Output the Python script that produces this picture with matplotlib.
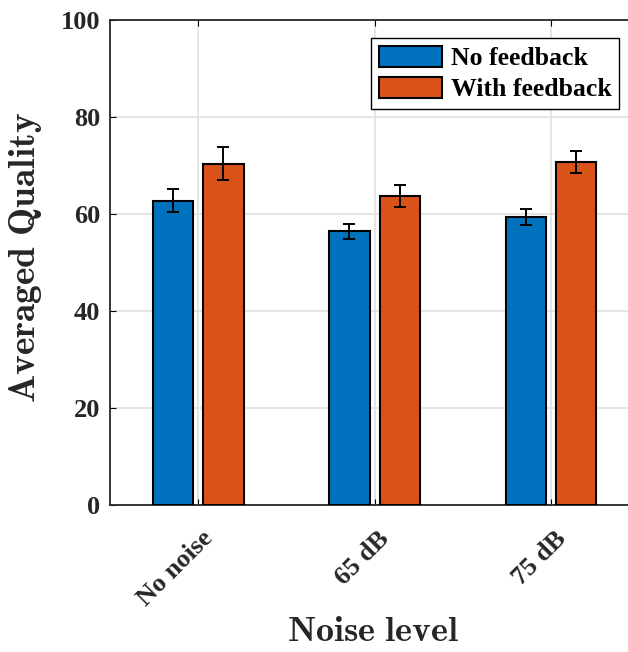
import matplotlib
matplotlib.use('Agg')
import matplotlib.pyplot as plt
from matplotlib.transforms import ScaledTranslation
import numpy as np

# Data
groups = ['No noise', '65 dB', '75 dB']
series = ['No feedback', 'With feedback']
no_fb = [62.7, 56.4, 59.3]
no_fb_err = [2.35, 1.55, 1.65]
with_fb = [70.4, 63.7, 70.7]
with_fb_err = [3.5, 2.3, 2.35]
yticks = [0, 20, 40, 60, 80, 100]

colors = ['#0072BD', '#D95319']

plt.rcParams['font.family'] = ['Liberation Serif', 'DejaVu Serif']
plt.rcParams['font.weight'] = 'bold'
plt.rcParams['mathtext.fontset'] = 'cm'

fig = plt.figure(figsize=(6.28, 6.52), dpi=100)
ax = fig.add_axes([0.1752, 0.2255, 0.843, 0.7439])

x = np.arange(1, len(groups) + 1)
w = 0.227
off = 0.143
ax.bar(x - off, no_fb, w, color=colors[0], edgecolor='black', linewidth=1.5,
       label=series[0], zorder=3)
ax.bar(x + off, with_fb, w, color=colors[1], edgecolor='black', linewidth=1.5,
       label=series[1], zorder=3)
ax.errorbar(x - off, no_fb, yerr=no_fb_err, fmt='none', ecolor='black',
            elinewidth=1.4, capsize=4.5, capthick=1.4, zorder=4)
ax.errorbar(x + off, with_fb, yerr=with_fb_err, fmt='none', ecolor='black',
            elinewidth=1.4, capsize=4.5, capthick=1.4, zorder=4)

ax.set_xlim(0.5, 3.5)
ax.set_ylim(0, 100)
ax.set_yticks(yticks)
ax.set_xticks(x)
ax.set_xticklabels(groups, rotation=45, ha='right', va='center',
                   rotation_mode='anchor')
ax.tick_params(axis='both', direction='in', length=4, width=0.8,
               labelsize=19, top=True, right=True)
ax.tick_params(axis='y', pad=7)
ax.tick_params(axis='x', pad=0)
# MATLAB places the rotated labels a bit lower and to the right of the tick
shift = ScaledTranslation(0.11, -0.30, fig.dpi_scale_trans)
for lab in ax.get_xticklabels():
    lab.set_transform(lab.get_transform() + shift)
for lab in ax.get_xticklabels() + ax.get_yticklabels():
    lab.set_fontweight('bold')
    lab.set_color('#262626')

ax.grid(True, color='#e0e0e0', linewidth=1.2, zorder=0)
ax.set_axisbelow(True)
for s in ax.spines.values():
    s.set_linewidth(1.3)
    s.set_color('#262626')

ax.set_ylabel(r'$\mathbf{Averaged\ Quality}$', fontsize=27, color='#262626')
ax.set_xlabel(r'$\mathbf{Noise\ level}$', fontsize=26, color='#262626')
ax.yaxis.set_label_coords(-0.125, 0.51)
ax.xaxis.set_label_coords(0.497, -0.228)

leg = ax.legend(loc='upper right', bbox_to_anchor=(619 / 628, 1 - 38 / 652),
                bbox_transform=fig.transFigure, fontsize=18.5, frameon=True,
                fancybox=False, edgecolor='black', framealpha=1,
                handlelength=2.45, handleheight=0.9, borderpad=0.3,
                labelspacing=0.25, handletextpad=0.35, borderaxespad=0)
leg.get_frame().set_linewidth(1.0)
for t in leg.get_texts():
    t.set_fontweight('bold')

fig.savefig('out.png', dpi=100)
